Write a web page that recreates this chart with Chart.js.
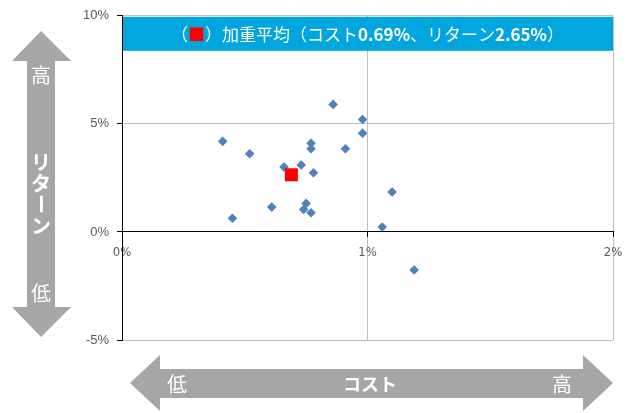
<!DOCTYPE html>
<html>
<head>
<meta charset="utf-8">
<script src="https://cdn.jsdelivr.net/npm/chart.js@4.4.1/dist/chart.umd.min.js"></script>
<style>
  html, body { margin: 0; padding: 0; background: #fff; }
  #wrap { width: 633px; height: 413px; position: relative; }
</style>
</head>
<body>
<div id="wrap"><canvas id="risk-return-chart"></canvas></div>
<script>
// ファンド別のコスト(%)とリターン(%)
const fundCosts = [0.86, 0.98, 0.98, 0.41, 0.52, 0.77, 0.77, 0.91, 0.66, 0.73, 0.78, 1.10, 0.61, 0.75, 0.74, 0.77, 0.45, 1.06, 1.19];
const fundReturns = [5.90, 5.20, 4.57, 4.19, 3.62, 4.10, 3.85, 3.85, 3.00, 3.10, 2.74, 1.85, 1.15, 1.32, 1.04, 0.89, 0.63, 0.23, -1.76];

// 加重平均
const avgCost = [0.69];
const avgReturn = [2.65];

// 軸目盛り
const costTicks = [0, 1, 2];
const returnTicks = [-5, 0, 5, 10];

const GRAY = "#a6a6a6";
const JP_FONT = "'Noto Sans CJK JP', sans-serif";

const toPoints = (xs, ys) => xs.map((x, i) => ({ x, y: ys[i] }));

// 上部の加重平均バナー
const bannerPlugin = {
  id: "banner",
  afterDatasetsDraw(chart) {
    const { ctx, chartArea } = chart;
    const top = chartArea.top + 1;
    const h = 34;
    ctx.save();
    ctx.fillStyle = "#00a6dd";
    ctx.fillRect(chartArea.left + 1, top, chartArea.right - chartArea.left - 1, h);

    const parts = [
      { t: "（", c: "#fff", w: "normal" },
      { t: "■", c: "#ff0000", w: "normal" },
      { t: "）加重平均（コスト", c: "#fff", w: "normal" },
      { t: avgCost[0].toFixed(2) + "%", c: "#fff", w: "bold" },
      { t: "、リターン", c: "#fff", w: "normal" },
      { t: avgReturn[0].toFixed(2) + "%", c: "#fff", w: "bold" },
      { t: "）", c: "#fff", w: "normal" },
    ];
    let total = 0;
    parts.forEach((p) => {
      ctx.font = p.w + " 17px " + JP_FONT;
      p.width = ctx.measureText(p.t).width;
      total += p.width;
    });
    let x = (chartArea.left + chartArea.right) / 2 - total / 2;
    ctx.textBaseline = "middle";
    ctx.textAlign = "left";
    parts.forEach((p) => {
      ctx.font = p.w + " 17px " + JP_FONT;
      ctx.fillStyle = p.c;
      ctx.fillText(p.t, x, top + h / 2 + 1);
      x += p.width;
    });
    ctx.restore();
  },
};

// 軸の外側の矢印（リターン・コスト）
const arrowPlugin = {
  id: "arrows",
  afterDraw(chart) {
    const { ctx } = chart;
    ctx.save();
    ctx.fillStyle = GRAY;

    // 縦矢印
    ctx.beginPath();
    ctx.moveTo(41, 31);
    ctx.lineTo(71, 61);
    ctx.lineTo(55, 61);
    ctx.lineTo(55, 307);
    ctx.lineTo(71, 307);
    ctx.lineTo(41, 337);
    ctx.lineTo(12, 307);
    ctx.lineTo(27, 307);
    ctx.lineTo(27, 61);
    ctx.lineTo(12, 61);
    ctx.closePath();
    ctx.fill();

    // 横矢印
    ctx.beginPath();
    ctx.moveTo(130, 383);
    ctx.lineTo(160, 355);
    ctx.lineTo(160, 369);
    ctx.lineTo(583, 369);
    ctx.lineTo(583, 355);
    ctx.lineTo(613, 383);
    ctx.lineTo(583, 411);
    ctx.lineTo(583, 398);
    ctx.lineTo(160, 398);
    ctx.lineTo(160, 411);
    ctx.closePath();
    ctx.fill();

    ctx.fillStyle = "#fff";
    ctx.textAlign = "center";
    ctx.textBaseline = "middle";
    ctx.font = "20px " + JP_FONT;
    ctx.fillText("高", 41, 75);
    ctx.fillText("低", 41, 293);
    ctx.fillText("低", 177, 384);
    ctx.fillText("高", 562, 384);

    ctx.font = "bold 20px " + JP_FONT;
    const vertical = ["リ", "タ", "ー", "ン"];
    const ys = [162, 183, 204, 226];
    vertical.forEach((ch, i) => {
      if (ch === "ー") {
        ctx.save();
        ctx.translate(41, ys[i]);
        ctx.rotate(Math.PI / 2);
        ctx.fillText(ch, 0, 0);
        ctx.restore();
      } else {
        ctx.fillText(ch, 41, ys[i]);
      }
    });

    ctx.font = "bold 18px " + JP_FONT;
    ctx.fillText("コスト", 370, 384);
    ctx.restore();
  },
};

const gridColor = (c) => (c.tick && c.tick.value === 0 ? "rgba(0,0,0,0)" : "#bfbfbf");

new Chart(document.getElementById("risk-return-chart"), {
  type: "scatter",
  data: {
    datasets: [
      {
        label: "加重平均",
        data: toPoints(avgCost, avgReturn),
        pointStyle: "rect",
        pointRadius: 9.2,
        pointHoverRadius: 9.2,
        backgroundColor: "#ff0000",
        borderColor: "#ff0000",
        borderWidth: 0,
      },
      {
        label: "ファンド",
        data: toPoints(fundCosts, fundReturns),
        pointStyle: "rectRot",
        pointRadius: 4.8,
        pointHoverRadius: 4.8,
        backgroundColor: "#4f81bd",
        borderColor: "#4f81bd",
        borderWidth: 0,
      },
    ],
  },
  options: {
    responsive: true,
    maintainAspectRatio: false,
    animation: false,
    layout: { padding: { left: 0, right: 20, top: 13, bottom: 73 } },
    scales: {
      x: {
        type: "linear",
        position: { y: 0 },
        min: costTicks[0],
        max: costTicks[costTicks.length - 1],
        afterBuildTicks: (scale) => {
          scale.ticks = costTicks.map((v) => ({ value: v }));
        },
        grid: { color: gridColor, tickColor: "#000", tickLength: 5 },
        border: { color: "#000", width: 1 },
        ticks: {
          padding: 8,
          color: "#595959",
          font: { family: "'Liberation Sans Narrow', 'DejaVu Sans Condensed', sans-serif", size: 13 },
          callback: (v) => v + "%",
        },
      },
      y: {
        type: "linear",
        position: "left",
        min: returnTicks[0],
        max: returnTicks[returnTicks.length - 1],
        afterBuildTicks: (scale) => {
          scale.ticks = returnTicks.map((v) => ({ value: v }));
        },
        afterFit: (scale) => {
          scale.width = 122;
        },
        grid: { color: gridColor, tickColor: "#000", tickLength: 5 },
        border: { color: "#000", width: 1 },
        ticks: {
          padding: 8,
          color: "#595959",
          font: { family: "'Liberation Sans', sans-serif", size: 13 },
          callback: (v) => v + "%",
        },
      },
    },
    plugins: {
      legend: { display: false },
      tooltip: { enabled: false },
    },
  },
  plugins: [bannerPlugin, arrowPlugin],
});
</script>
</body>
</html>
